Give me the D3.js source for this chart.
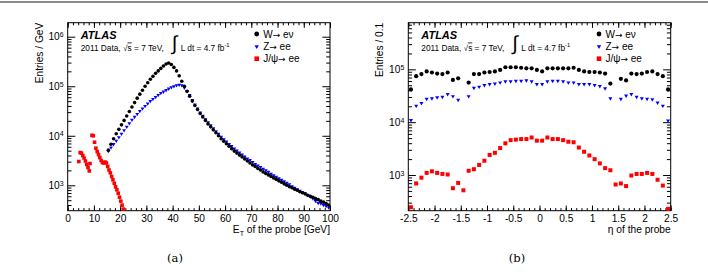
<!DOCTYPE html>
<html><head><meta charset="utf-8">
<script src="https://cdn.jsdelivr.net/npm/d3@7"></script>
<style>body{margin:0;background:#fff} svg{display:block}</style>
</head><body>
<svg id="c" width="708" height="272"></svg>
<script>
// ---------------- data ----------------
const etBins = [15.5,16.5,17.5,18.5,19.5,20.5,21.5,22.5,23.5,24.5,
25.5,26.5,27.5,28.5,29.5,30.5,31.5,32.5,33.5,34.5,
35.5,36.5,37.5,38.5,39.5,40.5,41.5,42.5,43.5,44.5,
45.5,46.5,47.5,48.5,49.5,50.5,51.5,52.5,53.5,54.5,
55.5,56.5,57.5,58.5,59.5,60.5,61.5,62.5,63.5,64.5,
65.5,66.5,67.5,68.5,69.5,70.5,71.5,72.5,73.5,74.5,
75.5,76.5,77.5,78.5,79.5,80.5,81.5,82.5,83.5,84.5,
85.5,86.5,87.5,88.5,89.5,90.5,91.5,92.5,93.5,94.5,
95.5,96.5,97.5,98.5,99.5];
const wEt = [5130,6760,8710,10960,13490,16600,20420,25120,30900,38020,
46770,57540,69180,83180,100000,117500,138000,158500,182000,204200,
229100,257000,281800,295100,275400,239900,204200,162200,125900,100000,
79430,63100,50120,40740,33880,28180,23990,20420,17380,15140,
13180,11480,10000,8710,7760,6920,6170,5500,4900,4470,
4070,3720,3390,3090,2820,2570,2400,2190,2040,1860,
1740,1620,1510,1410,1320,1230,1150,1070,1000,933,
891,832,794,741,708,676,631,603,575,537,
513,479,457,427,398];
const zEt = [4900,5750,6760,7940,9330,10960,12880,15140,17780,20890,
23990,27540,31620,35480,39810,44670,50120,54950,60260,66070,
72440,77620,83180,89130,95500,100000,104700,107200,104700,93330,
79430,66070,52480,42660,35480,29510,25120,21380,18620,16220,
14130,12300,10960,9550,8510,7590,6760,6170,5500,5010,
4570,4170,3800,3470,3240,2950,2690,2510,2340,2140,
2000,1860,1700,1580,1480,1380,1290,1200,1120,1050,
955,891,832,776,724,676,631,589,537,479,
437,427,398,380,355];
const jpsiEtBins = [4.25,4.75,5.25,5.75,6.25,6.75,7.25,7.75,8.25,8.5,
9.25,9.75,10.25,10.75,11.25,11.75,12.25,12.75,13.25,13.75,
14.25,14.75,15.25,15.75,16.25,16.75,17.25,17.75,18.25,18.75,
19.25,19.75,20.25,20.75,21.25,21.75];
const jpsiEt = [3020,4570,4470,3980,3550,3090,2630,2290,1950,2750,
10230,10000,7410,5620,4790,4170,3630,3160,2880,2820,
2950,2820,2400,2040,1780,1510,1290,1100,933,813,
692,575,479,398,331,282];

const etaBins = [-2.45,-2.35,-2.25,-2.15,-2.05,-1.95,-1.85,-1.75,-1.65,-1.55,
-1.45,-1.35,-1.25,-1.15,-1.05,-0.95,-0.85,-0.75,-0.65,-0.55,
-0.45,-0.35,-0.25,-0.15,-0.05,0.05,0.15,0.25,0.35,0.45,
0.55,0.65,0.75,0.85,0.95,1.05,1.15,1.25,1.35,1.45,
1.55,1.65,1.75,1.85,1.95,2.05,2.15,2.25,2.35,2.45];
const wEta = [41690,74130,81280,91200,87100,83180,81280,87100,63100,67610,
null,56230,81280,81280,87100,89130,91200,97720,109600,109600,
109600,107200,104700,104700,97720,91200,104700,104700,104700,104700,
104700,107200,97720,91200,89130,89130,87100,83180,53700,null,
66070,61660,83180,81280,83180,89130,91200,81280,74130,41690];
const zEta = [10960,20420,22910,27540,28180,29510,30200,33880,30900,26300,
null,30900,44670,46770,50120,52480,53700,56230,58880,58880,
60260,60260,61660,58880,52480,52480,58880,60260,60260,58880,
56230,56230,52480,52480,52480,50120,47860,43650,28180,null,
27540,31620,33880,30200,28180,27540,26920,23440,20420,10720];
const jpsiEta = [245,692,891,1096,1175,1096,1047,1023,562,708,
513,1202,1288,1549,1862,2399,2630,3236,3981,4571,
4677,4786,4786,5129,4467,4467,5129,4786,4786,4571,
4266,4169,3311,2754,2344,1995,1660,1349,1230,661,
692,617,977,1047,1047,1096,1047,813,631,229];

const etTicks = [0,10,20,30,40,50,60,70,80,90,100];
const etaTicks = [-2.5,-2,-1.5,-1,-0.5,0,0.5,1,1.5,2,2.5];
const etaTickLabels = ["-2.5","-2","-1.5","-1","-0.5","0","0.5","1","1.5","2","2.5"];
const seriesLabels = [["W", "e\u03BD"], ["Z", "ee"], ["J/\u03C8", "ee"]];
const seriesColors = ["#000000", "#0000ff", "#ff0000"];

// ---------------- drawing ----------------
const svg = d3.select("#c");
const FONT = "'Liberation Sans', Arial, Helvetica, sans-serif";

svg.append("rect").attr("x",0).attr("y",1).attr("width",708).attr("height",2).attr("fill","#8c8c8c");

function triPath(s){ // downward triangle centered
  const h = s*0.866;
  return `M${-s/2},${-h/3}L${s/2},${-h/3}L0,${2*h/3}Z`;
}

function drawPanel(p, idx){
  const g = svg.append("g");
  const x = d3.scaleLinear().domain(p.xDomain).range([p.left, p.right]);
  const y = d3.scaleLog().domain(p.yDomain).range([p.bottom, p.top]);

  const clipId = "clip" + idx;
  svg.append("clipPath").attr("id", clipId).append("rect")
    .attr("x", p.left).attr("y", p.top).attr("width", p.right - p.left).attr("height", p.bottom - p.top);

  const xMinor = [];
  for (let v = p.xDomain[0]; v <= p.xDomain[1] + 1e-9; v += p.xMinorStep) xMinor.push(+v.toFixed(4));
  const yMinor = [], yMajor = [];
  for (let k = 1; k <= 7; k++) for (let m = 1; m <= 9; m++) {
    const v = m * Math.pow(10, k);
    if (v >= p.yDomain[0] && v <= p.yDomain[1]) (m === 1 ? yMajor : yMinor).push(v);
  }

  function clean(sel){ sel.select(".domain").remove(); sel.selectAll(".tick line").attr("stroke","#000").attr("stroke-width",1); }

  g.append("g").attr("transform",`translate(0,${p.bottom})`)
    .call(d3.axisBottom(x).tickValues(xMinor).tickSize(-2.6).tickSizeOuter(0).tickFormat("")).call(clean);
  const xb = g.append("g").attr("transform",`translate(0,${p.bottom})`)
    .call(d3.axisBottom(x).tickValues(p.xTicks).tickSize(-5.2).tickSizeOuter(0).tickPadding(4.3).tickFormat(p.xFmt)).call(clean);
  xb.selectAll("text").attr("font-family", FONT).attr("font-size", 10.2).attr("fill","#000");
  g.append("g").attr("transform",`translate(0,${p.top})`)
    .call(d3.axisTop(x).tickValues(xMinor).tickSize(-2.6).tickSizeOuter(0).tickFormat("")).call(clean);
  g.append("g").attr("transform",`translate(0,${p.top})`)
    .call(d3.axisTop(x).tickValues(p.xTicks).tickSize(-5.2).tickSizeOuter(0).tickFormat("")).call(clean);

  g.append("g").attr("transform",`translate(${p.left},0)`)
    .call(d3.axisLeft(y).tickValues(yMinor).tickSize(-3.8).tickSizeOuter(0).tickFormat("")).call(clean);
  const yl = g.append("g").attr("transform",`translate(${p.left},0)`)
    .call(d3.axisLeft(y).tickValues(yMajor).tickSize(-7.6).tickSizeOuter(0).tickPadding(4).tickFormat(d => "10")).call(clean);
  yl.selectAll("text").attr("font-family", FONT).attr("font-size", 10.2).attr("fill","#000")
    .each(function(d){
      d3.select(this).append("tspan").attr("dy","-0.45em").attr("font-size",7).text(Math.round(Math.log10(d)));
    });
  g.append("g").attr("transform",`translate(${p.right},0)`)
    .call(d3.axisRight(y).tickValues(yMinor).tickSize(-3.8).tickSizeOuter(0).tickFormat("")).call(clean);
  g.append("g").attr("transform",`translate(${p.right},0)`)
    .call(d3.axisRight(y).tickValues(yMajor).tickSize(-7.6).tickSizeOuter(0).tickFormat("")).call(clean);

  g.append("rect").attr("x",p.left).attr("y",p.top).attr("width",p.right-p.left).attr("height",p.bottom-p.top)
    .attr("fill","none").attr("stroke","#000").attr("stroke-width",1);

  const dg = g.append("g").attr("clip-path",`url(#${clipId})`);
  const zPts = p.zBins.map((b,i)=>[b,p.z[i]]).filter(d=>d[1]!=null);
  const wPts = p.wBins.map((b,i)=>[b,p.w[i]]).filter(d=>d[1]!=null);
  const jPts = p.jBins.map((b,i)=>[b,p.j[i]]).filter(d=>d[1]!=null);
  dg.selectAll(".z").data(zPts).join("path")
    .attr("d", triPath(p.triS)).attr("fill", seriesColors[1])
    .attr("transform", d=>`translate(${x(d[0])},${y(d[1])})`);
  dg.selectAll(".w").data(wPts).join("circle")
    .attr("cx", d=>x(d[0])).attr("cy", d=>y(d[1])).attr("r", p.cr).attr("fill", seriesColors[0]);
  dg.selectAll(".j").data(jPts).join("rect")
    .attr("x", d=>x(d[0])-p.sq/2).attr("y", d=>y(d[1])-p.sq/2).attr("width",p.sq).attr("height",p.sq).attr("fill", seriesColors[2]);

  svg.append("text").attr("font-family",FONT).attr("font-size",10.2).attr("text-anchor","end")
    .attr("transform",`translate(${p.yTitleX},${p.top})rotate(-90)`).text(p.yTitle);
  const xt = svg.append("text").attr("font-family",FONT).attr("font-size",10.2).attr("text-anchor","end")
    .attr("x",p.right).attr("y",233);
  p.xTitle(xt);

  svg.append("text").attr("x",p.left+13).attr("y",38.5).attr("font-family",FONT).attr("font-size",11)
    .attr("font-weight","bold").attr("font-style","italic").text("ATLAS");
  const t1 = svg.append("text").attr("x",p.left+13).attr("y",50.5).attr("font-family",FONT).attr("font-size",8.3);
  t1.append("tspan").text("2011 Data, \u221A");
  t1.append("tspan").attr("text-decoration","overline").text("s");
  t1.append("tspan").text(" = 7 TeV,");
  svg.append("text").attr("x",p.left+104).attr("y",50).attr("font-family",FONT).attr("font-size",20).text("\u222B");
  const t2 = svg.append("text").attr("x",p.left+113).attr("y",50.5).attr("font-family",FONT).attr("font-size",8.3);
  t2.append("tspan").text("L dt = 4.7 fb");
  t2.append("tspan").attr("dy",-3.6).attr("font-size",5.8).text("-1");

  const rows = [34, 46.4, 58.7];
  const lg = svg.append("g");
  lg.append("circle").attr("cx",p.legX).attr("cy",rows[0]).attr("r",2.4).attr("fill",seriesColors[0]);
  lg.append("path").attr("d",triPath(4.4)).attr("fill",seriesColors[1]).attr("transform",`translate(${p.legX},${rows[1]})`);
  lg.append("rect").attr("x",p.legX-2.3).attr("y",rows[2]-2.3).attr("width",4.6).attr("height",4.6).attr("fill",seriesColors[2]);
  seriesLabels.forEach((s,i)=>{
    const t = lg.append("text").attr("x",p.legX+6.5).attr("y",rows[i]+3.6).attr("font-family",FONT).attr("font-size",10);
    t.append("tspan").text(s[0]);
    t.append("tspan").attr("font-family","'DejaVu Sans', sans-serif").attr("font-size",9).text("\u2192");
    t.append("tspan").text(" " + s[1]);
  });

  svg.append("text").attr("x",p.capX).attr("y",262).attr("text-anchor","middle")
    .attr("font-family","'DejaVu Serif','Liberation Serif',serif").attr("font-size",11.5).text(p.caption);
}

drawPanel({
  left:67.7, right:330, top:22.7, bottom:210.7,
  xDomain:[0,100], yDomain:[307,1.918e6], xMinorStep:2,
  xTicks: etTicks, xFmt: d=>String(d),
  wBins: etBins, w: wEt, zBins: etBins, z: zEt, jBins: jpsiEtBins, j: jpsiEt,
  cr:1.8, triS:3.8, sq:3.6,
  yTitle:"Entries / GeV", yTitleX:42.5,
  xTitle: t => { t.append("tspan").text("E"); t.append("tspan").attr("font-size",7).attr("dy",2.5).text("T");
                 t.append("tspan").attr("dy",-2.5).text(" of the probe [GeV]"); },
  legX:256.7, capX:175, caption:"(a)"
}, 0);

drawPanel({
  left:408.3, right:670.7, top:22.7, bottom:210.7,
  xDomain:[-2.5,2.5], yDomain:[211,7.64e5], xMinorStep:0.1,
  xTicks: etaTicks, xFmt: (d,i)=>etaTickLabels[i],
  wBins: etaBins, w: wEta, zBins: etaBins, z: zEta, jBins: etaBins, j: jpsiEta,
  cr:2.1, triS:4.0, sq:4.0,
  yTitle:"Entries / 0.1", yTitleX:382.5,
  xTitle: t => { t.text("\u03B7 of the probe"); },
  legX:599, capX:517, caption:"(b)"
}, 1);
</script>
</body></html>
